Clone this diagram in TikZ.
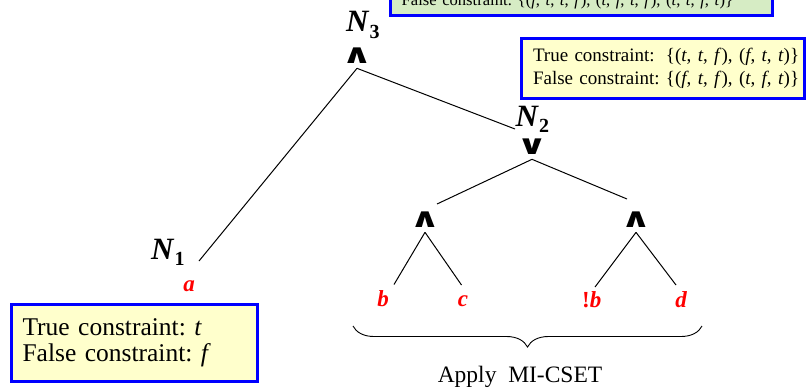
\documentclass[tikz,border=0pt]{standalone}
\usepackage{fontspec}
\setmainfont{Liberation Serif}
\newfontfamily\opfont[FakeStretch=1.4]{DejaVu Sans}
\usetikzlibrary{decorations.pathreplacing}
\definecolor{boxblue}{RGB}{0,0,255}
\definecolor{boxyellow}{RGB}{255,255,204}
\definecolor{boxgreen}{RGB}{214,236,196}
\definecolor{leafred}{RGB}{255,0,0}
\newcommand\Tv{\textit{t}}
\newcommand\Fv{\textit{f}}
\newcommand\subnum[1]{\kern1pt\raisebox{-6.5pt}{\fontsize{20}{20}\selectfont\bfseries\upshape #1}}
\frenchspacing
\begin{document}
\begin{tikzpicture}[x=1pt,y=-1pt,
  cbox/.style={draw=boxblue, line width=3pt, outer sep=0pt, align=left},
  nlabel/.style={inner sep=0pt, anchor=base west, font=\fontsize{31}{31}\selectfont\bfseries\itshape},
  leaf/.style={inner sep=0pt, anchor=base, text=leafred, font=\fontsize{23}{23}\selectfont\bfseries\itshape},
  opnode/.style={inner sep=0pt, outer ysep=4.5pt, font=\fontsize{27}{27}\selectfont\opfont\bfseries},
  treeline/.style={line width=1pt},
]
\useasboundingbox (0,0) rectangle (808,389);
\fill[white] (0,0) rectangle (808,389);
\clip (0,0) rectangle (808,389);

% constraint boxes
\node[cbox, fill=boxgreen, anchor=base west, text width=358.6pt, inner xsep=11.7pt, inner ysep=4pt,
      text height=40pt, text depth=6pt, font=\fontsize{16.6}{22}\selectfont] (tc3) at (390,5)
  {\mbox{False constraint: \{(\Fv, \Tv, \Tv, \Fv), (\Tv, \Fv, \Tv, \Fv), (\Tv, \Tv, \Fv, \Tv)\}}};
\node[cbox, fill=boxyellow, anchor=north west, text width=259.5pt, inner xsep=11.5pt,
      minimum height=59.5pt, font=\fontsize{19}{23}\selectfont] (tc2) at (521.5,38.5)
  {\begin{tabular}{@{}l@{\ }l@{}}True constraint: & \{(\Tv, \Tv, \Fv), (\Fv, \Tv, \Tv)\}\\
   False constraint: & \{(\Fv, \Tv, \Fv), (\Tv, \Fv, \Tv)\}\end{tabular}};
\node[cbox, fill=boxyellow, anchor=north west, text width=223.5pt, inner xsep=11pt,
      minimum height=77pt, font=\fontsize{25.5}{26}\selectfont] (tc1) at (11.5,304)
  {True constraint: \Tv\\False constraint: \Fv};

% node labels
\node[nlabel] (N3) at (346,31.7) {N\subnum{3}};
\node[nlabel] (N2) at (515.5,126.2) {N\subnum{2}};
\node[nlabel] (N1) at (151,259) {N\subnum{1}};

% operators
\node[opnode] (w3) at (357,56) {∧};
\node[opnode] (v2) at (532,147) {∨};
\node[opnode] (wl) at (425,220) {∧};
\node[opnode] (wr) at (636,220) {∧};

% leaves
\node[leaf] (la) at (189,291.5) {a};
\node[leaf] (lb) at (383,306.5) {b};
\node[leaf] (lc) at (463,306.5) {c};
\node[leaf] (lnb) at (591.7,307) {{\upshape !}b};
\node[leaf] (ld) at (681,307) {d};

% line ends
\coordinate (e31) at (199,261);
\coordinate (e32) at (515,129);
\coordinate (e2l) at (437,204);
\coordinate (e2r) at (627,199);
\coordinate (elb) at (394,284.5);
\coordinate (elc) at (461.5,285);
\coordinate (ernb) at (595,287);
\coordinate (erd) at (676,285);

\draw[treeline] (w3.south) -- (e31);
\draw[treeline] (w3.south) -- (e32);
\draw[treeline] (v2.south) -- (e2l);
\draw[treeline] (v2.south) -- (e2r);
\draw[treeline] (wl.south) -- (elb);
\draw[treeline] (wl.south) -- (elc);
\draw[treeline] (wr.south) -- (ernb);
\draw[treeline] (wr.south) -- (erd);

% brace
\coordinate (brL) at (353,326);
\coordinate (brR) at (702,326);
\draw[decorate, decoration={brace, amplitude=21pt}, line width=0.9pt] (brR) -- (brL);
\node[anchor=base, inner sep=0pt, font=\fontsize{23.5}{23.5}\selectfont] (apply) at (520,382)
  {Apply\ \ MI-CSET};
\end{tikzpicture}
\end{document}
